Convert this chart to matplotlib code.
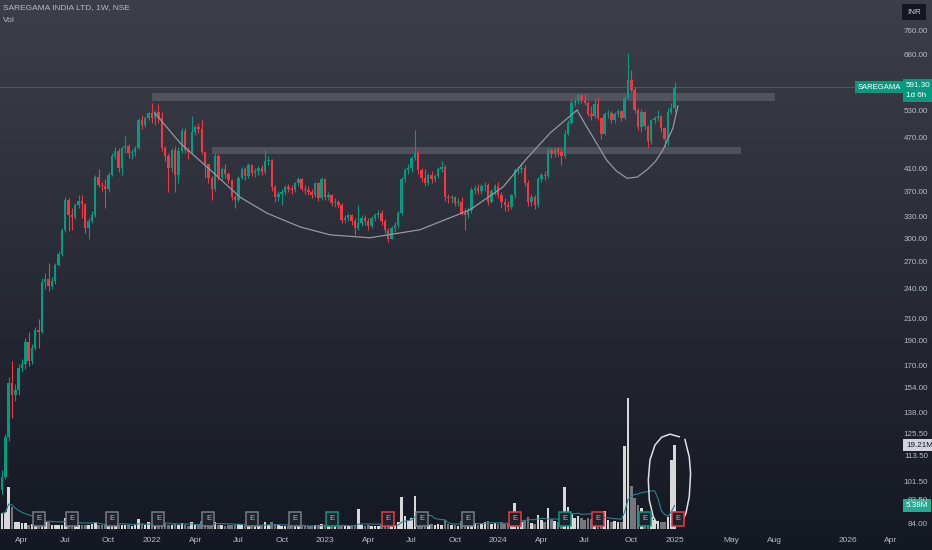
import matplotlib
matplotlib.use('Agg')
import matplotlib.pyplot as plt
from matplotlib.transforms import blended_transform_factory, offset_copy
import numpy as np
import pandas as pd

plt.rcParams['font.family'] = ['Liberation Sans', 'DejaVu Sans']

# weekly bars, first bar = week of 22 Feb 2021, last = week of 6 Jan 2025
first_week = '2021-02-22'
first_open = 98.0
close = [104, 124, 158, 150, 153, 169, 172, 190, 174, 185,
         200, 198, 248, 251, 243, 249, 268, 281, 313, 358,
         334, 331, 350, 356, 351, 316, 326, 335, 396, 383,
         380, 375, 400, 435, 445, 412, 450, 455, 440, 442,
         450, 511, 500, 515, 527, 515, 530, 515, 450, 435,
         412, 447, 400, 445, 487, 447, 442, 485, 495, 490,
         442, 420, 395, 375, 435, 397, 410, 402, 390, 363,
         358, 395, 410, 398, 418, 404, 406, 412, 405, 425,
         428, 378, 362, 367, 370, 378, 376, 374, 385, 392,
         376, 374, 371, 366, 385, 360, 392, 362, 365, 352,
         355, 350, 327, 330, 334, 325, 316, 322, 330, 326,
         318, 330, 334, 338, 325, 313, 301, 315, 320, 337,
         392, 409, 412, 431, 440, 408, 395, 386, 400, 392,
         398, 410, 414, 362, 360, 363, 352, 355, 338, 335,
         342, 374, 377, 372, 380, 383, 355, 372, 380, 365,
         355, 350, 347, 365, 409, 411, 413, 385, 355, 362,
         350, 393, 400, 398, 447, 438, 448, 442, 436, 480,
         505, 552, 556, 570, 558, 552, 525, 520, 548, 516,
         480, 525, 527, 512, 525, 532, 515, 564, 611, 585,
         535, 495, 530, 498, 465, 510, 515, 520, 492, 470,
         530, 540, 591.3]
high = [107, 126, 162, 174, 157, 172, 176, 193, 198, 188,
        203, 210, 252, 258, 270, 253, 270, 285, 316, 362,
        360, 345, 353, 365, 365, 353, 330, 340, 400, 410,
        388, 392, 405, 440, 452, 450, 455, 475, 458, 448,
        455, 515, 522, 520, 530, 550, 535, 548, 530, 455,
        440, 450, 455, 452, 492, 492, 452, 520, 500, 505,
        512, 445, 418, 398, 440, 438, 415, 420, 405, 392,
        366, 398, 414, 415, 422, 420, 412, 416, 418, 448,
        435, 430, 382, 372, 375, 382, 384, 382, 388, 396,
        395, 382, 380, 376, 388, 388, 396, 394, 370, 368,
        360, 358, 352, 335, 338, 336, 330, 350, 334, 334,
        330, 333, 337, 342, 342, 328, 316, 318, 324, 340,
        396, 413, 420, 436, 489, 447, 412, 410, 404, 406,
        402, 414, 425, 418, 368, 366, 364, 360, 362, 345,
        346, 378, 382, 384, 384, 388, 386, 376, 384, 388,
        370, 360, 356, 368, 412, 416, 422, 418, 390, 368,
        366, 396, 404, 406, 452, 450, 452, 452, 448, 488,
        510, 560, 566, 575, 574, 575, 556, 545, 562, 565,
        518, 530, 534, 532, 530, 537, 535, 568, 690, 640,
        592, 540, 536, 532, 500, 514, 520, 535, 522, 495,
        540, 552, 605]
low = [96, 103, 122, 135, 146, 150, 166, 168, 170, 172,
       183, 185, 197, 240, 238, 240, 246, 266, 278, 310,
       311, 312, 328, 345, 330, 308, 300, 322, 332, 378,
       372, 345, 370, 398, 430, 405, 400, 440, 432, 430,
       436, 448, 490, 495, 510, 505, 500, 505, 445, 425,
       370, 405, 370, 385, 440, 440, 430, 438, 478, 482,
       438, 395, 385, 358, 372, 390, 392, 395, 385, 358,
       345, 355, 392, 390, 395, 398, 396, 400, 400, 402,
       418, 372, 355, 356, 350, 366, 370, 368, 370, 380,
       372, 368, 366, 360, 362, 356, 358, 357, 358, 348,
       346, 345, 322, 322, 326, 320, 306, 312, 318, 320,
       313, 315, 326, 330, 320, 308, 297, 300, 310, 316,
       335, 388, 402, 405, 428, 402, 388, 380, 382, 386,
       388, 394, 405, 356, 352, 352, 348, 348, 334, 312,
       330, 338, 368, 368, 368, 372, 350, 352, 366, 360,
       345, 340, 340, 343, 360, 402, 404, 380, 348, 348,
       344, 346, 388, 390, 395, 432, 434, 436, 418, 432,
       478, 502, 544, 548, 550, 546, 520, 512, 515, 510,
       470, 478, 515, 505, 505, 518, 508, 512, 560, 578,
       528, 488, 485, 490, 452, 460, 505, 508, 485, 452,
       455, 525, 530]
# volume in millions
volume = [3.6, 3.9, 9.6, 5.0, 1.7, 1.5, 1.3, 1.4, 1.0, 1.2,
          2.5, 1.8, 3.9, 1.6, 1.5, 1.0, 0.9, 0.8, 0.9, 2.6,
          2.7, 1.9, 1.2, 0.8, 1.0, 0.9, 0.9, 1.1, 1.7, 1.0,
          0.9, 1.0, 1.4, 2.0, 1.1, 0.8, 1.0, 0.9, 0.8, 0.7,
          1.0, 2.3, 1.2, 1.0, 1.5, 1.0, 0.9, 0.9, 2.3, 1.4,
          0.9, 0.8, 1.1, 0.9, 1.4, 0.8, 0.7, 1.6, 0.9, 0.8,
          1.8, 1.2, 0.9, 2.0, 1.5, 1.0, 0.8, 0.7, 0.9, 1.0,
          0.8, 1.2, 0.9, 0.7, 1.0, 0.8, 0.7, 0.6, 0.8, 1.6,
          0.9, 1.5, 1.1, 0.8, 0.7, 0.6, 0.7, 0.6, 0.8, 0.9,
          0.7, 0.6, 0.6, 0.7, 1.0, 0.8, 1.2, 0.8, 0.7, 0.6,
          0.7, 0.6, 1.0, 0.7, 0.6, 0.7, 0.9, 4.6, 0.8, 0.7,
          0.8, 0.7, 0.6, 0.7, 0.8, 0.9, 1.1, 0.8, 0.9, 1.6,
          7.3, 3.0, 2.0, 2.6, 7.6, 3.1, 1.6, 1.3, 1.0, 1.2,
          0.9, 1.2, 1.0, 2.1, 1.1, 0.8, 0.9, 0.7, 1.8, 1.0,
          0.8, 2.7, 1.3, 1.0, 1.2, 1.6, 1.8, 1.2, 1.3, 1.1,
          1.4, 1.2, 1.1, 1.6, 6.0, 2.4, 1.5, 2.0, 2.8, 1.4,
          1.2, 3.3, 2.0, 1.5, 4.8, 2.2, 1.8, 1.5, 2.2, 9.7,
          5.0, 3.5, 2.6, 2.9, 2.4, 2.0, 2.6, 2.2, 1.9, 2.4,
          3.0, 4.2, 2.1, 1.6, 1.8, 1.5, 1.7, 19.0, 30.0, 9.8,
          7.1, 5.5, 4.8, 3.2, 3.2, 2.8, 2.0, 1.8, 1.6, 1.5,
          2.7, 15.8, 19.21]

# earnings markers (bar index) and their result colour
earn_idx = [11, 21, 33, 47, 62, 75, 88, 99, 116, 126, 140, 154, 169, 179, 193, 203]
earn_kind = ['n', 'n', 'n', 'n', 'n', 'n', 'n', 'up', 'down', 'n', 'n', 'down', 'up', 'down', 'up', 'down']

# drawn zones (bar index from/to, price lo/hi)
zones = [(45, 232, 556, 576), (63, 222, 439, 453)]

# hand drawn cup & handle (bar index, price)
cup_x = [45.9, 53.5, 62.5, 71.5, 79.6, 89.5, 98.5, 110.5, 125.5, 140.5, 150.5, 157.7, 164.6, 172.7]
cup_y = [527, 461, 409, 362, 337, 317, 306, 302, 313, 342, 379, 431, 482, 534]
handle_x = [172.7, 175.1, 177.5, 181.6, 184.5, 187.7, 190.8, 193.7, 196.3, 198.5, 201.5, 203.0]
handle_y = [534, 502, 473, 427, 407, 394, 396, 409, 425, 447, 493, 544]
# circle round the last volume bars (bar index, volume M)
loop_l_x = [203.4, 200.6, 198.1, 196.1, 194.6, 194.1, 194.4, 195.6, 196.6]
loop_l_y = [21.1, 21.7, 21.0, 19.2, 15.8, 11.2, 6.6, 2.8, 1.4]
loop_r_x = [205.1, 206.4, 206.8, 206.4, 205.4, 204.1]
loop_r_y = [20.5, 16.5, 12.7, 7.4, 3.6, 1.3]

tick_months = ['2021-04', '2021-07', '2021-10', '2022-01', '2022-04', '2022-07', '2022-10',
               '2023-01', '2023-04', '2023-07', '2023-10', '2024-01', '2024-04', '2024-07',
               '2024-10', '2025-01', '2025-05', '2025-08', '2026-01', '2026-04']
tick_text = ['Apr', 'Jul', 'Oct', '2022', 'Apr', 'Jul', 'Oct', '2023', 'Apr', 'Jul', 'Oct',
             '2024', 'Apr', 'Jul', 'Oct', '2025', 'May', 'Aug', '2026', 'Apr']
price_ticks = [760, 680, 595, 530, 470, 410, 370, 330, 300, 270, 240, 210, 190, 170,
               154, 138, 125.5, 113.5, 101.5, 93.5, 84]

up_c = '#089981'
dn_c = '#f23645'
txt_c = '#b8bbc4'

n = len(close)
x = np.arange(n)
opens = [first_open] + close[:-1]
up = [c >= o for o, c in zip(opens, close)]
dates = pd.date_range(first_week, periods=300, freq='W-MON')

fig = plt.figure(figsize=(9.32, 5.5), dpi=100)
bg = fig.add_axes([0, 0, 1, 1], zorder=0)
grad = np.linspace(0, 1, 256)[:, None, None]
top = np.array([0x3c, 0x3f, 0x48]) / 255
bot = np.array([0x14, 0x18, 0x23]) / 255
bg.imshow(top + (bot - top) * grad, aspect='auto', extent=[0, 1, 0, 1])
bg.axis('off')

rect = [0, 18 / 550, 1, 532 / 550]
ax_v = fig.add_axes(rect, zorder=1)
ax = fig.add_axes(rect, zorder=2)
for a in (ax, ax_v):
    a.set_facecolor('none')
    a.axis('off')
    a.set_xlim(-0.6, 279.3)
ax.set_yscale('log')
ax.set_ylim(81.2, 873)
ax_v.set_ylim(-0.69, 121.05)

# volume
vcol = ['#d8d8d8' if u else '#75777f' for u in up]
ax_v.bar(x, volume, width=0.78, color=vcol, linewidth=0)
sma = pd.Series(volume).rolling(10, min_periods=1).mean()
ax_v.plot(x, sma, color='#2b7f8c', lw=0.8)
ax_v.plot(loop_l_x, loop_l_y, color='#e0e0e0', lw=1.1, clip_on=False)
ax_v.plot(loop_r_x, loop_r_y, color='#e0e0e0', lw=1.1, clip_on=False)

for xi, kind in zip(earn_idx, earn_kind):
    ec = {'n': '#787b86', 'up': up_c, 'down': dn_c}[kind]
    ax_v.text(xi, 2.3, 'E', fontsize=5.5, color='#b2b5be', ha='center', va='center',
              bbox=dict(boxstyle='square,pad=0.45', fc='#1e222d', ec=ec, lw=1.1))

# zones and price line
for x0, x1, lo, hi in zones:
    ax.fill_between([x0, x1], lo, hi, color='#787b86', alpha=0.42, lw=0)
ax.axhline(close[-1], xmax=862 / 932, color='#3c6069', lw=0.8)

# candles
ccol = [up_c if u else dn_c for u in up]
ax.vlines(x, low, high, colors=ccol, lw=0.8)
bot_b = [min(o, c) for o, c in zip(opens, close)]
hgt = [max(abs(c - o), 0.6) for o, c in zip(opens, close)]
ax.bar(x, hgt, bottom=bot_b, width=0.72, color=ccol, linewidth=0)

ax.plot(cup_x, cup_y, color='#9598a1', lw=0.9)
ax.plot(handle_x, handle_y, color='#9598a1', lw=0.9)

# price scale
tr = blended_transform_factory(ax.transAxes, ax.transData)
for v in price_ticks:
    ax.text(928 / 932, v, f'{v:.2f}', transform=tr, fontsize=5.8, color=txt_c,
            ha='right', va='center')
ax.text(901 / 932, close[-1], 'SAREGAMA', transform=tr, fontsize=5.5, color='white',
        ha='right', va='center', zorder=5,
        bbox=dict(boxstyle='square,pad=0.3', fc=up_c, ec='none'))
ax.text(906 / 932, close[-1], f'{close[-1]:.2f}\n1d 6h',
        transform=offset_copy(tr, fig=fig, y=5, units='dots'), fontsize=5.8,
        color='white', ha='left', va='top', linespacing=1.5, zorder=5,
        bbox=dict(boxstyle='square,pad=0.4', fc=up_c, ec='none'))

trv = blended_transform_factory(ax_v.transAxes, ax_v.transData)
ax_v.text(906 / 932, volume[-1], f'{volume[-1]:.2f}M', transform=trv, fontsize=5.8,
          color='#131722', ha='left', va='center', zorder=5,
          bbox=dict(boxstyle='square,pad=0.35', fc='#d1d4dc', ec='none'))
ax_v.text(906 / 932, sma.iloc[-1], f'{sma.iloc[-1]:.2f}M', transform=trv, fontsize=5.8,
          color='white', ha='left', va='center', zorder=5,
          bbox=dict(boxstyle='square,pad=0.35', fc='#22ab94', ec='none'))

# time scale
for m, t in zip(tick_months, tick_text):
    pos = dates.searchsorted(pd.Timestamp(m + '-01'))
    ax.text(pos, -0.016, t, transform=ax.get_xaxis_transform(), fontsize=6,
            color=txt_c, ha='center', va='center')

fig.text(3 / 932, 1 - 8 / 550, 'SAREGAMA INDIA LTD, 1W, NSE', fontsize=6, color=txt_c,
         va='center')
fig.text(3 / 932, 1 - 20 / 550, 'Vol', fontsize=6, color=txt_c, va='center')
fig.text(914 / 932, 1 - 12 / 550, 'INR', fontsize=5.8, color='#d1d4dc', ha='center',
         va='center', bbox=dict(boxstyle='square,pad=0.6', fc='#131722', ec='none'))

fig.savefig('out.png', dpi=100)
